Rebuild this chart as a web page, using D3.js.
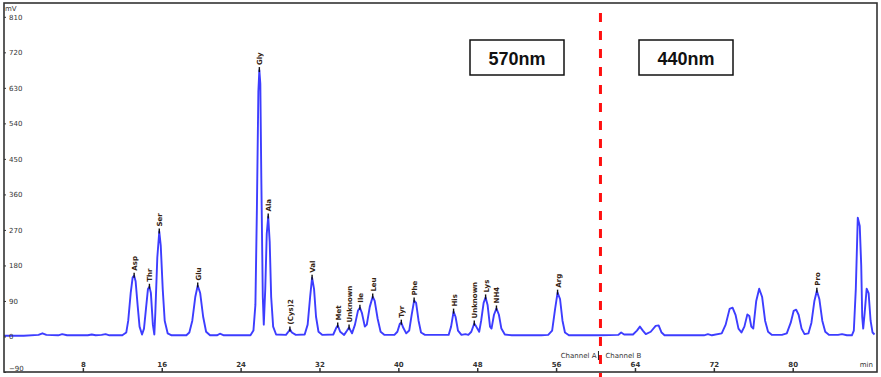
<!DOCTYPE html>
<html><head><meta charset="utf-8">
<script src="https://cdn.jsdelivr.net/npm/d3@7"></script>
<style>html,body{margin:0;padding:0;background:#fff;} svg{display:block;}</style>
</head><body>
<svg id="c" width="881" height="377"></svg>
<script>
// retention time (min)
const times = [0,2,3.5,3.9,4.3,5.5,5.9,6.4,8.5,8.9,9.3,9.9,10.3,10.7,12.0,12.4,
 12.6,12.85,13.05,13.2,13.35,13.55,13.75,14.0,
 14.2,14.4,14.6,14.75,14.9,15.1,15.25,
 15.35,15.55,15.75,15.9,16.1,16.3,16.6,17,18.5,
 18.8,19.1,19.4,19.65,19.9,20.2,20.5,20.9,21.6,21.9,22.3,25.0,
 25.3,25.5,25.65,25.8,25.9,26.0,26.1,26.25,26.35,
 26.5,26.65,26.8,26.95,27.1,27.3,27.6,28.6,28.9,29.0,29.2,29.6,30.5,
 30.8,31.05,31.25,31.45,31.65,31.9,32.3,33.4,33.7,33.85,34.1,34.5,34.8,35.0,35.15,
 35.3,35.6,35.9,36.1,36.3,36.6,36.8,37.1,37.4,37.6,37.9,38.2,38.6,39.6,
 39.9,40.15,40.3,40.5,40.8,
 41.1,41.35,41.6,41.8,42.05,42.3,42.7,45.1,
 45.35,45.6,45.8,46.05,46.4,46.8,47.1,47.4,47.7,47.9,48.2,
 48.4,48.65,48.85,49.05,49.3,49.45,
 49.7,49.95,50.2,50.45,50.8,51.5,54.5,55.2,55.6,
 55.9,56.15,56.4,56.65,56.9,57.3,60.5,
 62.3,62.6,62.9,63.8,64.2,64.5,64.8,65.1,65.6,66.1,66.4,66.7,67.0,71.0,71.4,71.8,
 72.8,73.2,73.6,73.9,74.2,74.5,74.8,
 75.1,75.4,75.6,75.8,76.0,76.3,76.6,76.9,77.2,77.5,77.9,78.9,
 79.4,79.8,80.1,80.35,80.6,80.9,81.2,81.6,
 81.9,82.2,82.45,82.7,83.0,83.3,83.7,84.6,85.0,85.5,86.0,
 86.2,86.4,86.6,86.8,86.95,87.05,87.15,87.3,87.5,87.7,87.9,88.1,88.3];
// detector signal (mV)
const signal = [2,2,4,8,4,3,6,3,3,5,3,4,6,3,3,10,
 40,110,150,154,140,80,25,5,
 20,70,120,126,110,30,5,
 60,200,266,230,120,40,8,3,3,
 10,40,100,129,110,50,12,3,3,7,3,3,
 15,80,320,620,675,640,400,100,30,
 120,260,304,240,100,25,5,4,14,18,10,4,5,
 30,100,149,120,50,12,4,5,22,28,12,4,15,23,15,
 8,30,65,73,60,25,30,75,101,90,45,12,4,4,
 12,32,35,22,8,
 15,55,91,85,40,10,4,4,
 25,63,50,15,4,6,4,12,33,25,12,
 40,85,99,80,25,20,
 55,71,55,20,5,3,3,4,15,
 70,111,95,40,10,3,3,
 4,10,5,5,15,25,15,6,12,27,28,10,3,3,6,3,
 8,30,70,73,55,20,10,
 25,56,52,25,20,90,121,100,40,12,4,4,
 8,35,65,68,55,20,6,8,
 35,90,116,95,40,12,4,4,6,3,3,
 15,120,301,280,180,50,20,60,121,110,40,10,5];
// peak names and their retention times
const peakNames = ["Asp","Thr","Ser","Glu","Gly","Ala","(Cys)2","Val","Met","Unknown","Ile","Leu","Tyr","Phe","His","Unknown","Lys","NH4","Arg","Pro"];
const peakTimes = [13.2,14.75,15.75,19.65,25.9,26.8,29.0,31.25,33.85,35.0,36.1,37.4,40.3,41.6,45.6,47.7,48.85,49.95,56.15,82.45];
const yTicks = [-90,0,90,180,270,360,450,540,630,720,810];
const xTicks = [8,16,24,32,40,48,56,64,72,80];
const channelSplit = 60.5;
const boxLabels = ["570nm","440nm"];

const svg = d3.select("#c");
const L=4, R=877, T=3, B=372;
const x = d3.scaleLinear().domain([0,88.55]).range([L,R]);
const y = d3.scaleLinear().domain([-90,845]).range([B,T]);

svg.append("clipPath").attr("id","clip").append("rect")
  .attr("x",L).attr("y",T).attr("width",R-L).attr("height",B-T);

const data = times.map((t,i)=>({t, v: signal[i]}));
const line = d3.line().x(d=>x(d.t)).y(d=>y(d.v));
svg.append("path").datum(data).attr("clip-path","url(#clip)")
  .attr("d",line).attr("fill","none").attr("stroke","#3d3dff")
  .attr("stroke-width",1.9).attr("stroke-linejoin","round");

// y axis
const yAxis = d3.axisRight(y).tickValues(yTicks).tickSize(2).tickPadding(3);
const gy = svg.append("g").attr("transform",`translate(${L},0)`).call(yAxis);
gy.select(".domain").remove();
gy.selectAll("text").attr("font-size",7).attr("font-family","DejaVu Sans").attr("fill","#333")
  .attr("dy",d=>d===-90?"-0.15em":"0.32em");
gy.selectAll("line").attr("stroke","#333");

// x axis (labels inside the frame)
const xAxis = d3.axisTop(x).tickValues(xTicks).tickSize(4).tickPadding(1);
const gx = svg.append("g").attr("transform",`translate(0,${B})`).call(xAxis);
gx.select(".domain").remove();
gx.selectAll("text").attr("font-size",7).attr("font-family","DejaVu Sans").attr("font-weight","bold").attr("fill","#333");
gx.selectAll("line").attr("stroke","#333").attr("stroke-width",1.5);

svg.append("text").attr("x",L+1).attr("y",T+8).attr("font-size",7).attr("font-family","DejaVu Sans").attr("fill","#333").text("mV");
svg.append("text").attr("x",R-4).attr("y",B-5).attr("text-anchor","end").attr("font-size",7).attr("font-family","DejaVu Sans").attr("fill","#333").text("min");

// frame
svg.append("rect").attr("x",L).attr("y",T).attr("width",R-L).attr("height",B-T)
  .attr("fill","none").attr("stroke","#333").attr("stroke-width",1.6);

// peak labels
const peaks = peakNames.map((n,i)=>{
  const t = peakTimes[i];
  const d = data.find(p=>p.t===t);
  return {n, t, v: d.v};
});
const pg = svg.append("g");
pg.selectAll("line").data(peaks).join("line")
  .attr("x1",d=>x(d.t)).attr("x2",d=>x(d.t))
  .attr("y1",d=>y(d.v)-3).attr("y2",d=>y(d.v)+2)
  .attr("stroke","#111").attr("stroke-width",1.4);
pg.selectAll("text").data(peaks).join("text")
  .attr("transform",d=>`translate(${x(d.t)+3},${y(d.v)-5}) rotate(-90)`)
  .attr("font-size",7).attr("font-family","DejaVu Sans").attr("font-weight","bold")
  .attr("fill","#332211").text(d=>d.n);

// channel split
const xs = x(channelSplit);
svg.append("line").attr("x1",xs).attr("x2",xs).attr("y1",13).attr("y2",377)
  .attr("stroke","#ff1010").attr("stroke-width",3).attr("stroke-dasharray","9,9");
svg.append("text").attr("x",xs-4).attr("y",358).attr("text-anchor","end").attr("font-size",7).attr("font-family","DejaVu Sans").attr("fill","#333").text("Channel A");
svg.append("text").attr("x",xs+5).attr("y",358).attr("font-size",7).attr("font-family","DejaVu Sans").attr("fill","#333").text("Channel B");
svg.append("line").attr("x1",xs-2).attr("x2",xs-2).attr("y1",351).attr("y2",360).attr("stroke","#222").attr("stroke-width",1);

// wavelength boxes
const boxX = [470,639];
boxLabels.forEach((lab,i)=>{
  svg.append("rect").attr("x",boxX[i]).attr("y",40).attr("width",94).attr("height",35)
    .attr("fill","#fff").attr("stroke","#111").attr("stroke-width",1.5);
  svg.append("text").attr("x",boxX[i]+47).attr("y",65).attr("text-anchor","middle")
    .attr("font-size",18).attr("font-weight","bold").attr("font-family","Liberation Sans")
    .attr("fill","#111").text(lab);
});
</script>
</body></html>
